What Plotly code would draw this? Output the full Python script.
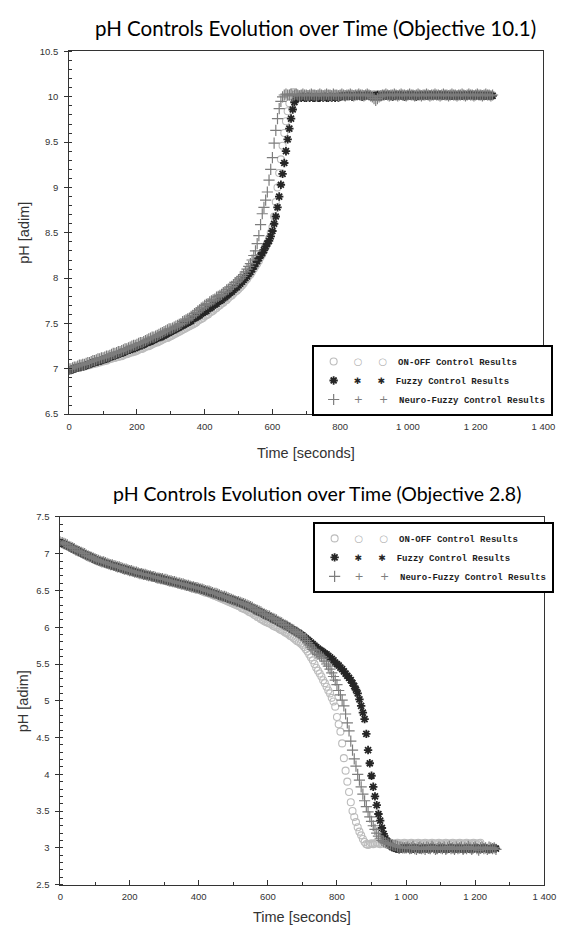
import plotly.graph_objects as go

SAMPLE_PERIOD_S = 5  # one reading every 5 seconds

# ---------------- Objective 10.1 (top chart) ----------------
top_onoff = [
    6.99, 6.99, 7.00, 7.00, 7.01, 7.01, 7.02, 7.02, 7.02, 7.03,
    7.03, 7.04, 7.04, 7.05, 7.05, 7.06, 7.06, 7.07, 7.07, 7.08,
    7.08, 7.09, 7.09, 7.10, 7.11, 7.11, 7.12, 7.12, 7.13, 7.13,
    7.14, 7.14, 7.15, 7.16, 7.16, 7.17, 7.18, 7.18, 7.19, 7.19,
    7.20, 7.21, 7.22, 7.22, 7.23, 7.24, 7.25, 7.25, 7.26, 7.27,
    7.28, 7.29, 7.29, 7.30, 7.31, 7.32, 7.33, 7.34, 7.34, 7.35,
    7.36, 7.37, 7.38, 7.39, 7.40, 7.41, 7.42, 7.43, 7.44, 7.45,
    7.46, 7.47, 7.48, 7.49, 7.50, 7.51, 7.53, 7.54, 7.55, 7.56,
    7.58, 7.59, 7.60, 7.62, 7.63, 7.64, 7.66, 7.67, 7.69, 7.70,
    7.72, 7.73, 7.75, 7.76, 7.78, 7.80, 7.81, 7.83, 7.85, 7.86,
    7.88, 7.90, 7.92, 7.94, 7.97, 7.99, 8.02, 8.04, 8.07, 8.10,
    8.13, 8.16, 8.19, 8.23, 8.26, 8.30, 8.34, 8.39, 8.44, 8.50,
    8.56, 8.68, 8.84, 9.00, 9.16, 9.31, 9.46, 9.60, 9.73, 9.84,
    9.93, 10.00, 10.05, 10.05, 10.03, 10.02, 10.02, 10.03, 10.02, 10.02,
    10.02, 10.03, 10.02, 10.02, 10.03, 10.02, 10.03, 10.02, 10.02, 10.03,
    10.02, 10.02, 10.03, 10.02, 10.03, 10.02, 10.02, 10.03, 10.02, 10.02,
    10.03, 10.02, 10.02, 10.03, 10.02, 10.02, 10.03, 10.02, 10.03, 10.02,
    10.02, 10.03, 10.02, 10.02, 10.03, 10.02, 10.02, 10.03, 10.02, 10.02,
    10.03, 10.02, 10.02, 10.03, 10.02, 10.03, 10.02, 10.02, 10.03, 10.02,
    10.02, 10.03, 10.02, 10.02, 10.03, 10.02, 10.02, 10.03, 10.02, 10.03,
    10.02, 10.02, 10.03, 10.02, 10.02, 10.03, 10.02, 10.02, 10.03, 10.02,
    10.02, 10.03, 10.02, 10.03, 10.02, 10.02, 10.03, 10.02, 10.02, 10.03,
    10.02, 10.02, 10.03, 10.02, 10.02, 10.03, 10.02, 10.03, 10.02, 10.02,
    10.03, 10.02, 10.02, 10.03, 10.02, 10.02, 10.03, 10.02, 10.02, 10.03,
    10.02, 10.03, 10.02, 10.02, 10.03, 10.02, 10.02, 10.03, 10.02, 10.02,
    10.02,
]
top_fuzzy = [
    6.98, 6.99, 6.99, 7.00, 7.01, 7.01, 7.02, 7.02, 7.03, 7.03,
    7.04, 7.05, 7.05, 7.06, 7.07, 7.07, 7.08, 7.08, 7.09, 7.09,
    7.10, 7.11, 7.11, 7.12, 7.13, 7.14, 7.14, 7.15, 7.16, 7.16,
    7.17, 7.18, 7.18, 7.19, 7.20, 7.21, 7.21, 7.22, 7.23, 7.23,
    7.24, 7.25, 7.26, 7.26, 7.27, 7.28, 7.29, 7.30, 7.30, 7.31,
    7.32, 7.33, 7.34, 7.35, 7.35, 7.36, 7.37, 7.38, 7.39, 7.40,
    7.41, 7.42, 7.43, 7.44, 7.45, 7.46, 7.47, 7.48, 7.49, 7.50,
    7.51, 7.52, 7.53, 7.55, 7.56, 7.57, 7.58, 7.59, 7.61, 7.62,
    7.63, 7.64, 7.66, 7.67, 7.68, 7.70, 7.71, 7.72, 7.74, 7.75,
    7.76, 7.78, 7.79, 7.81, 7.82, 7.84, 7.85, 7.87, 7.89, 7.90,
    7.92, 7.94, 7.96, 7.98, 8.00, 8.02, 8.05, 8.07, 8.10, 8.13,
    8.16, 8.19, 8.22, 8.25, 8.28, 8.31, 8.35, 8.38, 8.41, 8.46,
    8.52, 8.60, 8.68, 8.78, 8.90, 9.03, 9.15, 9.27, 9.40, 9.53,
    9.65, 9.76, 9.86, 9.94, 9.98, 9.99, 10.00, 9.99, 10.00, 9.99,
    9.99, 10.00, 9.99, 10.00, 9.99, 9.99, 10.00, 9.99, 9.99, 10.00,
    9.99, 10.00, 9.99, 9.99, 10.00, 9.99, 10.00, 9.99, 10.00, 9.99,
    10.00, 10.01, 10.01, 10.00, 10.01, 10.02, 10.01, 10.00, 10.01, 10.01,
    10.01, 10.02, 10.01, 10.00, 10.01, 10.01, 10.02, 10.01, 10.01, 10.00,
    10.01, 10.01, 10.02, 10.01, 10.00, 10.01, 10.02, 10.01, 10.01, 10.02,
    10.01, 10.00, 10.01, 10.02, 10.01, 10.01, 10.02, 10.01, 10.00, 10.01,
    10.02, 10.01, 10.01, 10.02, 10.01, 10.00, 10.01, 10.02, 10.01, 10.01,
    10.02, 10.01, 10.01, 10.02, 10.01, 10.01, 10.02, 10.01, 10.01, 10.02,
    10.01, 10.01, 10.02, 10.01, 10.02, 10.01, 10.01, 10.02, 10.01, 10.01,
    10.02, 10.01, 10.01, 10.02, 10.01, 10.01, 10.02, 10.01, 10.02, 10.01,
    10.01, 10.02, 10.01, 10.01, 10.02, 10.01, 10.01, 10.02, 10.01, 10.01,
    10.01,
]
top_neuro = [
    7.00, 7.00, 7.01, 7.02, 7.02, 7.03, 7.04, 7.04, 7.05, 7.05,
    7.06, 7.07, 7.07, 7.08, 7.09, 7.09, 7.10, 7.11, 7.11, 7.12,
    7.12, 7.13, 7.14, 7.14, 7.15, 7.16, 7.17, 7.17, 7.18, 7.19,
    7.19, 7.20, 7.21, 7.22, 7.22, 7.23, 7.24, 7.25, 7.26, 7.26,
    7.27, 7.28, 7.29, 7.29, 7.30, 7.31, 7.32, 7.33, 7.34, 7.35,
    7.35, 7.36, 7.37, 7.38, 7.39, 7.40, 7.41, 7.42, 7.43, 7.44,
    7.44, 7.45, 7.46, 7.47, 7.48, 7.49, 7.50, 7.52, 7.53, 7.54,
    7.55, 7.56, 7.58, 7.59, 7.61, 7.62, 7.64, 7.65, 7.67, 7.68,
    7.70, 7.71, 7.72, 7.74, 7.75, 7.76, 7.77, 7.79, 7.80, 7.81,
    7.82, 7.84, 7.85, 7.87, 7.88, 7.90, 7.91, 7.93, 7.95, 7.96,
    7.98, 8.00, 8.02, 8.04, 8.07, 8.10, 8.13, 8.16, 8.20, 8.25,
    8.30, 8.38, 8.47, 8.59, 8.71, 8.78, 8.86, 8.95, 9.08, 9.20,
    9.33, 9.49, 9.63, 9.76, 9.87, 9.95, 10.00, 10.02, 10.03, 10.02,
    10.02, 10.03, 10.01, 10.02, 10.03, 10.02, 10.01, 10.02, 10.03, 10.02,
    10.02, 10.01, 10.02, 10.03, 10.02, 10.02, 10.01, 10.02, 10.03, 10.02,
    10.01, 10.02, 10.03, 10.02, 10.02, 10.01, 10.03, 10.02, 10.02, 10.01,
    10.02, 10.03, 10.02, 10.01, 10.02, 10.02, 10.03, 10.02, 10.01, 10.02,
    10.02, 10.03, 10.02, 10.02, 10.01, 10.02, 10.03, 10.02, 10.01, 10.00,
    9.98, 9.96, 9.98, 10.00, 10.01, 10.02, 10.02, 10.03, 10.02, 10.01,
    10.02, 10.02, 10.03, 10.02, 10.01, 10.02, 10.03, 10.02, 10.02, 10.01,
    10.02, 10.03, 10.02, 10.02, 10.01, 10.02, 10.03, 10.02, 10.01, 10.02,
    10.02, 10.03, 10.02, 10.01, 10.02, 10.02, 10.03, 10.02, 10.02, 10.01,
    10.02, 10.03, 10.02, 10.02, 10.01, 10.02, 10.03, 10.02, 10.02, 10.01,
    10.02, 10.02, 10.03, 10.02, 10.01, 10.02, 10.03, 10.02, 10.02, 10.01,
    10.02, 10.03, 10.02, 10.02, 10.01, 10.02, 10.03, 10.02, 10.02, 10.01,
    10.02,
]

# ---------------- Objective 2.8 (bottom chart) ----------------
bot_onoff = [
    7.15, 7.14, 7.13, 7.11, 7.10, 7.09, 7.08, 7.07, 7.06, 7.04,
    7.03, 7.02, 7.01, 7.00, 6.98, 6.97, 6.96, 6.95, 6.94, 6.93,
    6.92, 6.91, 6.90, 6.89, 6.88, 6.88, 6.87, 6.86, 6.85, 6.84,
    6.84, 6.83, 6.82, 6.81, 6.81, 6.80, 6.79, 6.78, 6.78, 6.77,
    6.76, 6.76, 6.75, 6.74, 6.74, 6.73, 6.72, 6.72, 6.71, 6.70,
    6.70, 6.69, 6.69, 6.68, 6.67, 6.67, 6.66, 6.65, 6.65, 6.64,
    6.64, 6.63, 6.62, 6.62, 6.61, 6.61, 6.60, 6.59, 6.59, 6.58,
    6.57, 6.57, 6.56, 6.55, 6.55, 6.54, 6.53, 6.53, 6.52, 6.51,
    6.51, 6.50, 6.49, 6.48, 6.47, 6.47, 6.46, 6.45, 6.44, 6.43,
    6.42, 6.41, 6.40, 6.39, 6.38, 6.37, 6.36, 6.35, 6.34, 6.33,
    6.32, 6.31, 6.30, 6.29, 6.28, 6.26, 6.25, 6.24, 6.23, 6.21,
    6.20, 6.19, 6.17, 6.16, 6.14, 6.13, 6.11, 6.10, 6.08, 6.07,
    6.06, 6.05, 6.04, 6.02, 6.01, 6.00, 5.99, 5.97, 5.96, 5.95,
    5.93, 5.92, 5.90, 5.88, 5.87, 5.85, 5.83, 5.81, 5.80, 5.78,
    5.76, 5.73, 5.70, 5.67, 5.63, 5.59, 5.55, 5.50, 5.45, 5.41,
    5.37, 5.33, 5.28, 5.24, 5.19, 5.14, 5.10, 5.04, 4.99, 4.92,
    4.78, 4.68, 4.58, 4.42, 4.22, 4.05, 3.90, 3.76, 3.62, 3.50,
    3.42, 3.35, 3.28, 3.22, 3.17, 3.12, 3.08, 3.05, 3.04, 3.05,
    3.06, 3.05, 3.06, 3.07, 3.06, 3.05, 3.06, 3.07, 3.06, 3.05,
    3.06, 3.07, 3.06, 3.05, 3.06, 3.07, 3.06, 3.05, 3.06, 3.07,
    3.06, 3.05, 3.06, 3.07, 3.06, 3.05, 3.06, 3.07, 3.06, 3.05,
    3.06, 3.07, 3.06, 3.05, 3.06, 3.07, 3.06, 3.05, 3.06, 3.07,
    3.06, 3.05, 3.06, 3.07, 3.06, 3.05, 3.06, 3.07, 3.06, 3.05,
    3.06, 3.07, 3.06, 3.05, 3.06, 3.07, 3.06, 3.05, 3.06, 3.07,
    3.06, 3.05, 3.06, 3.07,
]
bot_fuzzy = [
    7.15, 7.14, 7.13, 7.12, 7.11, 7.10, 7.09, 7.07, 7.06, 7.05,
    7.04, 7.03, 7.01, 7.00, 6.99, 6.98, 6.97, 6.96, 6.95, 6.94,
    6.92, 6.91, 6.90, 6.90, 6.89, 6.88, 6.87, 6.86, 6.86, 6.85,
    6.84, 6.83, 6.83, 6.82, 6.81, 6.80, 6.80, 6.79, 6.78, 6.78,
    6.77, 6.76, 6.76, 6.75, 6.74, 6.74, 6.73, 6.73, 6.72, 6.71,
    6.71, 6.70, 6.70, 6.69, 6.68, 6.68, 6.67, 6.67, 6.66, 6.65,
    6.65, 6.64, 6.64, 6.63, 6.62, 6.62, 6.61, 6.61, 6.60, 6.59,
    6.59, 6.58, 6.58, 6.57, 6.56, 6.56, 6.55, 6.55, 6.54, 6.53,
    6.53, 6.52, 6.51, 6.50, 6.50, 6.49, 6.48, 6.47, 6.46, 6.46,
    6.45, 6.44, 6.43, 6.42, 6.42, 6.41, 6.40, 6.39, 6.38, 6.38,
    6.37, 6.36, 6.35, 6.34, 6.33, 6.32, 6.31, 6.30, 6.29, 6.28,
    6.27, 6.26, 6.25, 6.23, 6.22, 6.21, 6.20, 6.19, 6.17, 6.16,
    6.15, 6.14, 6.13, 6.11, 6.10, 6.09, 6.08, 6.06, 6.05, 6.04,
    6.03, 6.02, 6.00, 5.99, 5.97, 5.96, 5.95, 5.93, 5.92, 5.90,
    5.89, 5.87, 5.85, 5.83, 5.81, 5.79, 5.77, 5.75, 5.73, 5.71,
    5.69, 5.68, 5.66, 5.64, 5.63, 5.61, 5.59, 5.57, 5.55, 5.52,
    5.50, 5.48, 5.45, 5.43, 5.40, 5.37, 5.34, 5.31, 5.28, 5.24,
    5.20, 5.15, 5.10, 5.02, 4.93, 4.84, 4.75, 4.55, 4.33, 4.15,
    3.98, 3.83, 3.70, 3.58, 3.46, 3.37, 3.27, 3.19, 3.13, 3.09,
    3.06, 3.03, 3.01, 3.00, 2.99, 2.99, 2.98, 2.99, 2.99, 3.00,
    2.99, 3.00, 2.99, 2.98, 2.99, 3.00, 2.99, 2.99, 2.98, 2.99,
    3.00, 2.99, 2.99, 2.98, 2.99, 3.00, 2.99, 2.99, 2.98, 2.99,
    2.99, 3.00, 2.99, 2.98, 2.99, 2.99, 3.00, 2.99, 2.98, 2.99,
    2.99, 3.00, 2.99, 2.98, 2.99, 3.00, 2.99, 2.99, 2.98, 2.99,
    3.00, 2.99, 2.99, 2.98, 2.99, 3.00, 2.99, 2.99, 2.98, 2.99,
    2.99, 3.00, 2.99,
]
bot_neuro = [
    7.16, 7.15, 7.14, 7.13, 7.12, 7.10, 7.09, 7.08, 7.07, 7.05,
    7.04, 7.03, 7.02, 7.01, 7.00, 6.98, 6.97, 6.96, 6.95, 6.94,
    6.93, 6.92, 6.91, 6.90, 6.89, 6.89, 6.88, 6.87, 6.86, 6.85,
    6.85, 6.84, 6.83, 6.82, 6.82, 6.81, 6.80, 6.79, 6.79, 6.78,
    6.77, 6.77, 6.76, 6.75, 6.75, 6.74, 6.73, 6.73, 6.72, 6.72,
    6.71, 6.70, 6.70, 6.69, 6.69, 6.68, 6.67, 6.67, 6.66, 6.66,
    6.65, 6.65, 6.64, 6.63, 6.63, 6.62, 6.62, 6.61, 6.60, 6.60,
    6.59, 6.59, 6.58, 6.57, 6.57, 6.56, 6.55, 6.55, 6.54, 6.54,
    6.53, 6.52, 6.52, 6.51, 6.50, 6.49, 6.49, 6.48, 6.47, 6.46,
    6.46, 6.45, 6.44, 6.43, 6.42, 6.42, 6.41, 6.40, 6.39, 6.38,
    6.37, 6.36, 6.35, 6.35, 6.34, 6.33, 6.32, 6.31, 6.30, 6.29,
    6.28, 6.27, 6.25, 6.24, 6.23, 6.22, 6.21, 6.19, 6.18, 6.17,
    6.16, 6.15, 6.13, 6.12, 6.11, 6.10, 6.08, 6.07, 6.06, 6.04,
    6.03, 6.02, 6.00, 5.99, 5.97, 5.96, 5.94, 5.93, 5.91, 5.90,
    5.88, 5.85, 5.82, 5.79, 5.76, 5.73, 5.70, 5.68, 5.65, 5.63,
    5.62, 5.60, 5.58, 5.54, 5.50, 5.47, 5.43, 5.38, 5.33, 5.28,
    5.22, 5.14, 5.08, 5.01, 4.93, 4.82, 4.70, 4.59, 4.45, 4.33,
    4.21, 4.11, 4.00, 3.92, 3.83, 3.73, 3.64, 3.56, 3.49, 3.42,
    3.36, 3.30, 3.25, 3.20, 3.16, 3.13, 3.10, 3.08, 3.07, 3.06,
    3.05, 3.05, 3.04, 3.03, 3.03, 3.02, 3.01, 3.01, 3.00, 3.00,
    3.00, 3.01, 2.99, 3.00, 3.02, 2.99, 2.98, 3.00, 3.01, 2.99,
    3.00, 2.98, 3.01, 3.00, 2.99, 3.02, 3.00, 2.98, 2.99, 3.01,
    3.00, 2.99, 3.01, 2.98, 3.00, 3.02, 2.99, 3.00, 2.98, 3.01,
    2.99, 3.00, 3.01, 2.98, 3.00, 2.99, 3.02, 3.00, 2.98, 3.00,
    3.01, 2.99, 2.97, 3.00, 3.01, 2.99, 3.00, 2.98, 3.01, 3.00,
    2.99, 3.00, 2.98,
]

chart_titles = [
    "pH Controls Evolution over Time (Objective 10.1)",
    "pH Controls Evolution over Time (Objective 2.8)",
]
series_names = ["ON-OFF Control Results", "Fuzzy Control Results",
                "Neuro-Fuzzy Control Results"]
x_title = "Time [seconds]"
y_title = "pH [adim]"
x_tick_values = [0, 200, 400, 600, 800, 1000, 1200, 1400]
top_y_ticks = [6.5, 7, 7.5, 8, 8.5, 9, 9.5, 10, 10.5]
bot_y_ticks = [2.5, 3, 3.5, 4, 4.5, 5, 5.5, 6, 6.5, 7, 7.5]

# ---------------- styling ----------------
W, H = 569, 940
styles = [
    dict(symbol="circle-open", size=7, color="#bcbcbc", lw=1.1,
         glyph="○", gsize=10, gcolor="#b0b0b0"),
    dict(symbol="asterisk-open", size=7, color="#262626", lw=1.8,
         glyph="✱", gsize=9, gcolor="#262626"),
    dict(symbol="cross-thin-open", size=8, color="#7d7d7d", lw=1.2,
         glyph="+", gsize=11, gcolor="#7d7d7d"),
]
draw_order = [0, 1, 2]
legend_rank = [1, 2, 3]

def times(values):
    return [i * SAMPLE_PERIOD_S for i in range(len(values))]

def legend_label(name, st):
    g = (f'<span style="font-family:DejaVu Sans;font-weight:normal;font-size:{st["gsize"]}px;'
         f'color:{st["gcolor"]}">{st["glyph"]}</span>')
    return f"{g}   {g}  {name}"

fig = go.Figure()
groups = [
    ([top_onoff, top_fuzzy, top_neuro], "x", "y", "legend"),
    ([bot_onoff, bot_fuzzy, bot_neuro], "x2", "y2", "legend2"),
]
for series, xa, ya, lg in groups:
    for k in draw_order:
        vals, name, st = series[k], series_names[k], styles[k]
        fig.add_trace(go.Scatter(
            x=times(vals), y=vals, mode="markers", name=legend_label(name, st),
            xaxis=xa, yaxis=ya, legend=lg, legendrank=legend_rank[k],
            marker=dict(symbol=st["symbol"], size=st["size"], color=st["color"],
                        line=dict(color=st["color"], width=st["lw"])),
        ))

tick_font = dict(family="Liberation Sans, Arial, sans-serif", size=9.5, color="#333333")
def xaxis_cfg(domain, anchor):
    return dict(domain=domain, anchor=anchor, range=[0, 1400], tickvals=x_tick_values,
                ticks="inside", ticklen=5, tickcolor="#333", tickwidth=1,
                minor=dict(dtick=100, ticks="inside", ticklen=3, tickcolor="#333"),
                showline=True, linecolor="#333", linewidth=1, mirror=True,
                showgrid=False, zeroline=False, tickfont=tick_font,
                separatethousands=True, ticklabelstandoff=3)
def yaxis_cfg(domain, anchor, rng, tv):
    return dict(domain=domain, anchor=anchor, range=rng, tickvals=tv,
                ticks="outside", ticklen=4, tickcolor="#333", tickwidth=1,
                minor=dict(dtick=0.1, ticks="inside", ticklen=3, tickcolor="#333"),
                showline=True, linecolor="#333", linewidth=1, mirror=True,
                showgrid=False, zeroline=False, tickfont=tick_font,
                ticklabelstandoff=4)

top_px = (68, 555, 46, 413)
bot_px = (59, 556, 517, 889)
def dom(px):
    x0, x1, y0, y1 = px
    return [x0 / W, x1 / W], [1 - y1 / H, 1 - y0 / H]

tx, ty = dom(top_px)
bx, by = dom(bot_px)

legend_common = dict(xanchor="left", yanchor="top", bgcolor="white",
                     bordercolor="black", borderwidth=2,
                     font=dict(family="Liberation Mono, Courier New, monospace",
                               size=9, color="#1e1e1e", weight="bold"),
                     tracegroupgap=0)

fig.update_layout(
    width=W, height=H, margin=dict(l=0, r=0, t=0, b=0),
    paper_bgcolor="white", plot_bgcolor="white",
    separators=". ",
    xaxis=xaxis_cfg(tx, "y"), yaxis=yaxis_cfg(ty, "x", [6.5, 10.5], top_y_ticks),
    xaxis2=xaxis_cfg(bx, "y2"), yaxis2=yaxis_cfg(by, "x2", [2.5, 7.5], bot_y_ticks),
    legend=dict(x=317 / W, y=1 - 343 / H, **legend_common),
    legend2=dict(x=318 / W, y=1 - 522 / H, **legend_common),
    showlegend=True,
)

axis_title_font = dict(family="Liberation Sans, Arial, sans-serif", size=14.5, color="#333")
annots = [
    dict(text=chart_titles[0], x=321 / W, y=1 - 22 / H,
         font=dict(family="Lato, Open Sans, sans-serif", size=20.5, color="black")),
    dict(text=chart_titles[1], x=322 / W, y=1 - 493 / H,
         font=dict(family="Lato, Open Sans, sans-serif", size=19.5, color="black")),
    dict(text=x_title, x=(top_px[0] + top_px[1]) / 2 / W, y=1 - 452 / H, font=axis_title_font),
    dict(text=x_title, x=(bot_px[0] + bot_px[1]) / 2 / W, y=1 - 922 / H, font=axis_title_font),
    dict(text=y_title, x=22 / W, y=1 - 229 / H, font=axis_title_font, textangle=-90),
    dict(text=y_title, x=20 / W, y=1 - 703 / H, font=axis_title_font, textangle=-90),
]
for a in annots:
    fig.add_annotation(xref="paper", yref="paper", showarrow=False,
                       xanchor="center", yanchor="middle", **a)

fig.write_html("out.html")
